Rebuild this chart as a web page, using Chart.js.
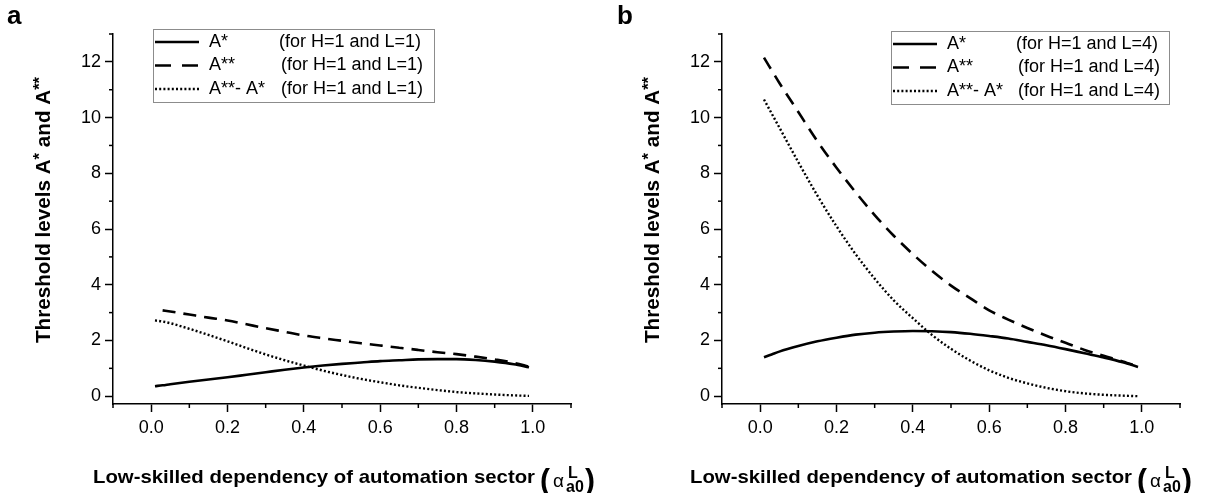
<!DOCTYPE html>
<html>
<head>
<meta charset="utf-8">
<script src="https://cdn.jsdelivr.net/npm/chart.js@4"></script>
<style>
  html, body { margin: 0; padding: 0; background: #fff; }
  #wrap { position: relative; width: 1206px; height: 493px; overflow: hidden; }
  canvas { position: absolute; top: 0; }
</style>
</head>
<body>
<div id="wrap">
  <canvas id="chartA" width="597" height="493" style="left:0px"></canvas>
  <canvas id="chartB" width="597" height="493" style="left:609px"></canvas>
</div>
<script>
// alpha^L_a0 values shared by every curve
const xs = [0.01, 0.03, 0.05, 0.1, 0.15, 0.2, 0.25, 0.3, 0.35, 0.4, 0.45,
            0.5, 0.55, 0.6, 0.65, 0.7, 0.75, 0.8, 0.85, 0.9, 0.95, 0.99];

// panel a: H=1, L=1
const aStarL1   = [0.36, 0.39, 0.43, 0.52, 0.60, 0.68, 0.77, 0.86, 0.95, 1.03, 1.10,
                   1.16, 1.21, 1.26, 1.29, 1.32, 1.33, 1.33, 1.30, 1.24, 1.15, 1.04];
const aStar2L1  = [null, 3.08, 3.04, 2.93, 2.82, 2.72, 2.58, 2.44, 2.31, 2.18, 2.08,
                   1.99, 1.90, 1.82, 1.74, 1.66, 1.58, 1.51, 1.42, 1.32, 1.20, 1.06];
const aDiffL1   = [2.72, 2.68, 2.62, 2.42, 2.20, 1.97, 1.73, 1.50, 1.29, 1.10, 0.92,
                   0.76, 0.62, 0.50, 0.39, 0.30, 0.22, 0.15, 0.10, 0.06, 0.03, 0.01];

// panel b: H=1, L=4
const aStarL4   = [1.40, 1.50, 1.60, 1.80, 1.97, 2.10, 2.21, 2.28, 2.32, 2.34, 2.33,
                   2.30, 2.24, 2.16, 2.07, 1.95, 1.83, 1.69, 1.54, 1.39, 1.22, 1.05];
const aStar2L4  = [12.15, 11.7, 11.25, 10.2, 9.15, 8.2, 7.32, 6.5, 5.76, 5.1, 4.5,
                   3.97, 3.52, 3.08, 2.75, 2.45, 2.17, 1.92, 1.66, 1.45, 1.25, 1.06];
const aDiffL4   = [10.65, 10.15, 9.65, 8.4, 7.2, 6.1, 5.1, 4.22, 3.44, 2.8, 2.2,
                   1.7, 1.28, 0.93, 0.66, 0.46, 0.3, 0.18, 0.1, 0.05, 0.02, 0.0];

const seriesNames = ['A*', 'A**', 'A**- A*'];
const xTickLabels = ['0.0', '0.2', '0.4', '0.6', '0.8', '1.0'];
const yTickLabels = ['0', '2', '4', '6', '8', '10', '12'];

const FONT = "'Liberation Sans', Arial, sans-serif";
const legendDash = [null, [16, 11], [2, 2.2]];

function pts(ys) {
  return xs.map((x, i) => ({ x: x, y: ys[i] }));
}

function fitText(ctx, text, x, y, w) {
  const m = ctx.measureText(text).width;
  ctx.save();
  ctx.translate(x, y);
  ctx.scale(w / m, 1);
  ctx.fillText(text, 0, 0);
  ctx.restore();
}

const decorPlugin = {
  id: 'decor',
  afterDraw(chart) {
    const o = chart.options.plugins.decor;
    const ctx = chart.ctx;
    const area = chart.chartArea;
    ctx.save();
    ctx.fillStyle = '#000';
    ctx.strokeStyle = '#000';

    // minor ticks (shorter)
    ctx.lineWidth = 1.5;
    const xs_ = chart.scales.x, ys_ = chart.scales.y;
    xs_.ticks.forEach(t => {
      const k = Math.round(t.value * 10);
      if (k % 2 !== 0 || k < 0 || k > 10) {
        const px = xs_.getPixelForValue(t.value);
        ctx.beginPath(); ctx.moveTo(px, area.bottom); ctx.lineTo(px, area.bottom + 4); ctx.stroke();
      }
    });
    ys_.ticks.forEach(t => {
      if (t.value % 2 !== 0 || t.value > 12) {
        const py = ys_.getPixelForValue(t.value);
        ctx.beginPath(); ctx.moveTo(area.left, py); ctx.lineTo(area.left - 4, py); ctx.stroke();
      }
    });

    // panel letter
    ctx.font = 'bold 26px ' + FONT;
    ctx.textBaseline = 'alphabetic';
    ctx.textAlign = 'left';
    ctx.fillText(o.letter, o.letterX, 24);

    // y title with raised asterisks, stretched to the reference length
    ctx.save();
    ctx.translate(50, 343);
    ctx.rotate(-Math.PI / 2);
    const parts = [['Threshold levels A', false], ['*', true], [' and A', false], ['**', true]];
    let total = 0;
    parts.forEach(([s, sup]) => {
      ctx.font = (sup ? 'bold 16px ' : 'bold 20px ') + FONT;
      total += ctx.measureText(s).width;
    });
    ctx.scale(266 / total, 1);
    let cx = 0;
    parts.forEach(([s, sup]) => {
      ctx.font = (sup ? 'bold 16px ' : 'bold 20px ') + FONT;
      ctx.fillText(s, cx, sup ? -5 : 0);
      cx += ctx.measureText(s).width;
    });
    ctx.restore();

    // x title with alpha^L_a0
    const tx = o.titleX;
    ctx.font = 'bold 19px ' + FONT;
    fitText(ctx, 'Low-skilled dependency of automation sector', tx, 482.5, 442);
    ctx.font = 'bold 30px ' + FONT;
    ctx.fillText('(', tx + 447, 490);
    ctx.font = '19px ' + FONT;
    ctx.fillText('\u03b1', tx + 460, 487);
    ctx.font = 'bold 16px ' + FONT;
    ctx.fillText('L', tx + 475, 478);
    ctx.fillText('a0', tx + 473, 492);
    ctx.font = 'bold 30px ' + FONT;
    ctx.fillText(')', tx + 492, 490);

    // legend box
    const lg = o.legend;
    ctx.lineWidth = 1;
    ctx.strokeStyle = '#8c8c8c';
    ctx.strokeRect(lg.x + 0.5, lg.y + 0.5, lg.w, lg.h);
    ctx.font = '18px ' + FONT;
    ctx.textBaseline = 'middle';
    chart.data.datasets.forEach((ds, i) => {
      const ry = lg.y + 13 + i * 23.5;
      ctx.save();
      ctx.strokeStyle = '#000';
      ctx.lineWidth = ds.borderWidth;
      ctx.setLineDash(legendDash[i] || []);
      ctx.beginPath(); ctx.moveTo(lg.x + 2, ry); ctx.lineTo(lg.x + 46, ry); ctx.stroke();
      ctx.restore();
      ctx.fillText(seriesNames[i], lg.x + 56, ry);
      ctx.fillText(o.note, lg.x + lg.noteX + (i === 0 ? 0 : 2), ry);
    });
    ctx.restore();
  }
};

function makeChart(id, sA, sB, sC, deco) {
  return new Chart(document.getElementById(id).getContext('2d'), {
    type: 'line',
    data: {
      datasets: [
        { label: seriesNames[0], data: pts(sA), borderColor: '#000', borderWidth: 2.6 },
        { label: seriesNames[1], data: pts(sB), borderColor: '#000', borderWidth: 2.6, borderDash: [13, 8] },
        { label: seriesNames[2], data: pts(sC), borderColor: '#000', borderWidth: 2.4, borderDash: [2, 2.2] }
      ]
    },
    options: {
      responsive: false,
      animation: false,
      devicePixelRatio: 1,
      layout: { padding: { top: 34, right: 26, left: 0, bottom: 0 } },
      elements: {
        point: { radius: 0 },
        line: { cubicInterpolationMode: 'monotone', borderCapStyle: 'butt', fill: false }
      },
      plugins: {
        legend: { display: false },
        tooltip: { enabled: false },
        decor: deco
      },
      scales: {
        x: {
          type: 'linear', min: -0.1, max: 1.1,
          afterBuildTicks: s => { s.ticks = []; for (let i = -1; i <= 11; i++) s.ticks.push({ value: i / 10 }); },
          afterFit: s => { s.height = 89; },
          grid: {
            drawOnChartArea: false, drawTicks: true, tickLength: 8, tickWidth: 1.5,
            tickColor: c => { const k = Math.round(c.tick.value * 10); return (k >= 0 && k <= 10 && k % 2 === 0) ? '#000' : 'rgba(0,0,0,0)'; }
          },
          border: { display: true, color: '#000', width: 1.5 },
          ticks: {
            autoSkip: false, maxRotation: 0, padding: 5, color: '#000',
            font: { family: FONT, size: 18 },
            callback: v => { const k = Math.round(v * 10); return (k >= 0 && k <= 10 && k % 2 === 0) ? xTickLabels[k / 2] : ''; }
          }
        },
        y: {
          type: 'linear', min: -0.28, max: 13,
          afterBuildTicks: s => { s.ticks = []; for (let i = 0; i <= 13; i++) s.ticks.push({ value: i }); },
          afterFit: s => { s.width = 113; },
          grid: {
            drawOnChartArea: false, drawTicks: true, tickLength: 8, tickWidth: 1.5,
            tickColor: c => (c.tick.value % 2 === 0 && c.tick.value <= 12) ? '#000' : 'rgba(0,0,0,0)'
          },
          border: { display: true, color: '#000', width: 1.5 },
          ticks: {
            autoSkip: false, padding: 4, color: '#000',
            font: { family: FONT, size: 18 },
            callback: v => (v % 2 === 0 && v <= 12) ? yTickLabels[v / 2] : ''
          }
        }
      }
    },
    plugins: [decorPlugin]
  });
}

makeChart('chartA', aStarL1, aStar2L1, aDiffL1, {
  letter: 'a', letterX: 7, titleX: 93, note: '(for H=1 and L=1)',
  legend: { x: 153, y: 29, w: 281, h: 73, noteX: 126 }
});
makeChart('chartB', aStarL4, aStar2L4, aDiffL4, {
  letter: 'b', letterX: 8, titleX: 81, note: '(for H=1 and L=4)',
  legend: { x: 282, y: 31, w: 278, h: 73, noteX: 125 }
});
</script>
</body>
</html>
